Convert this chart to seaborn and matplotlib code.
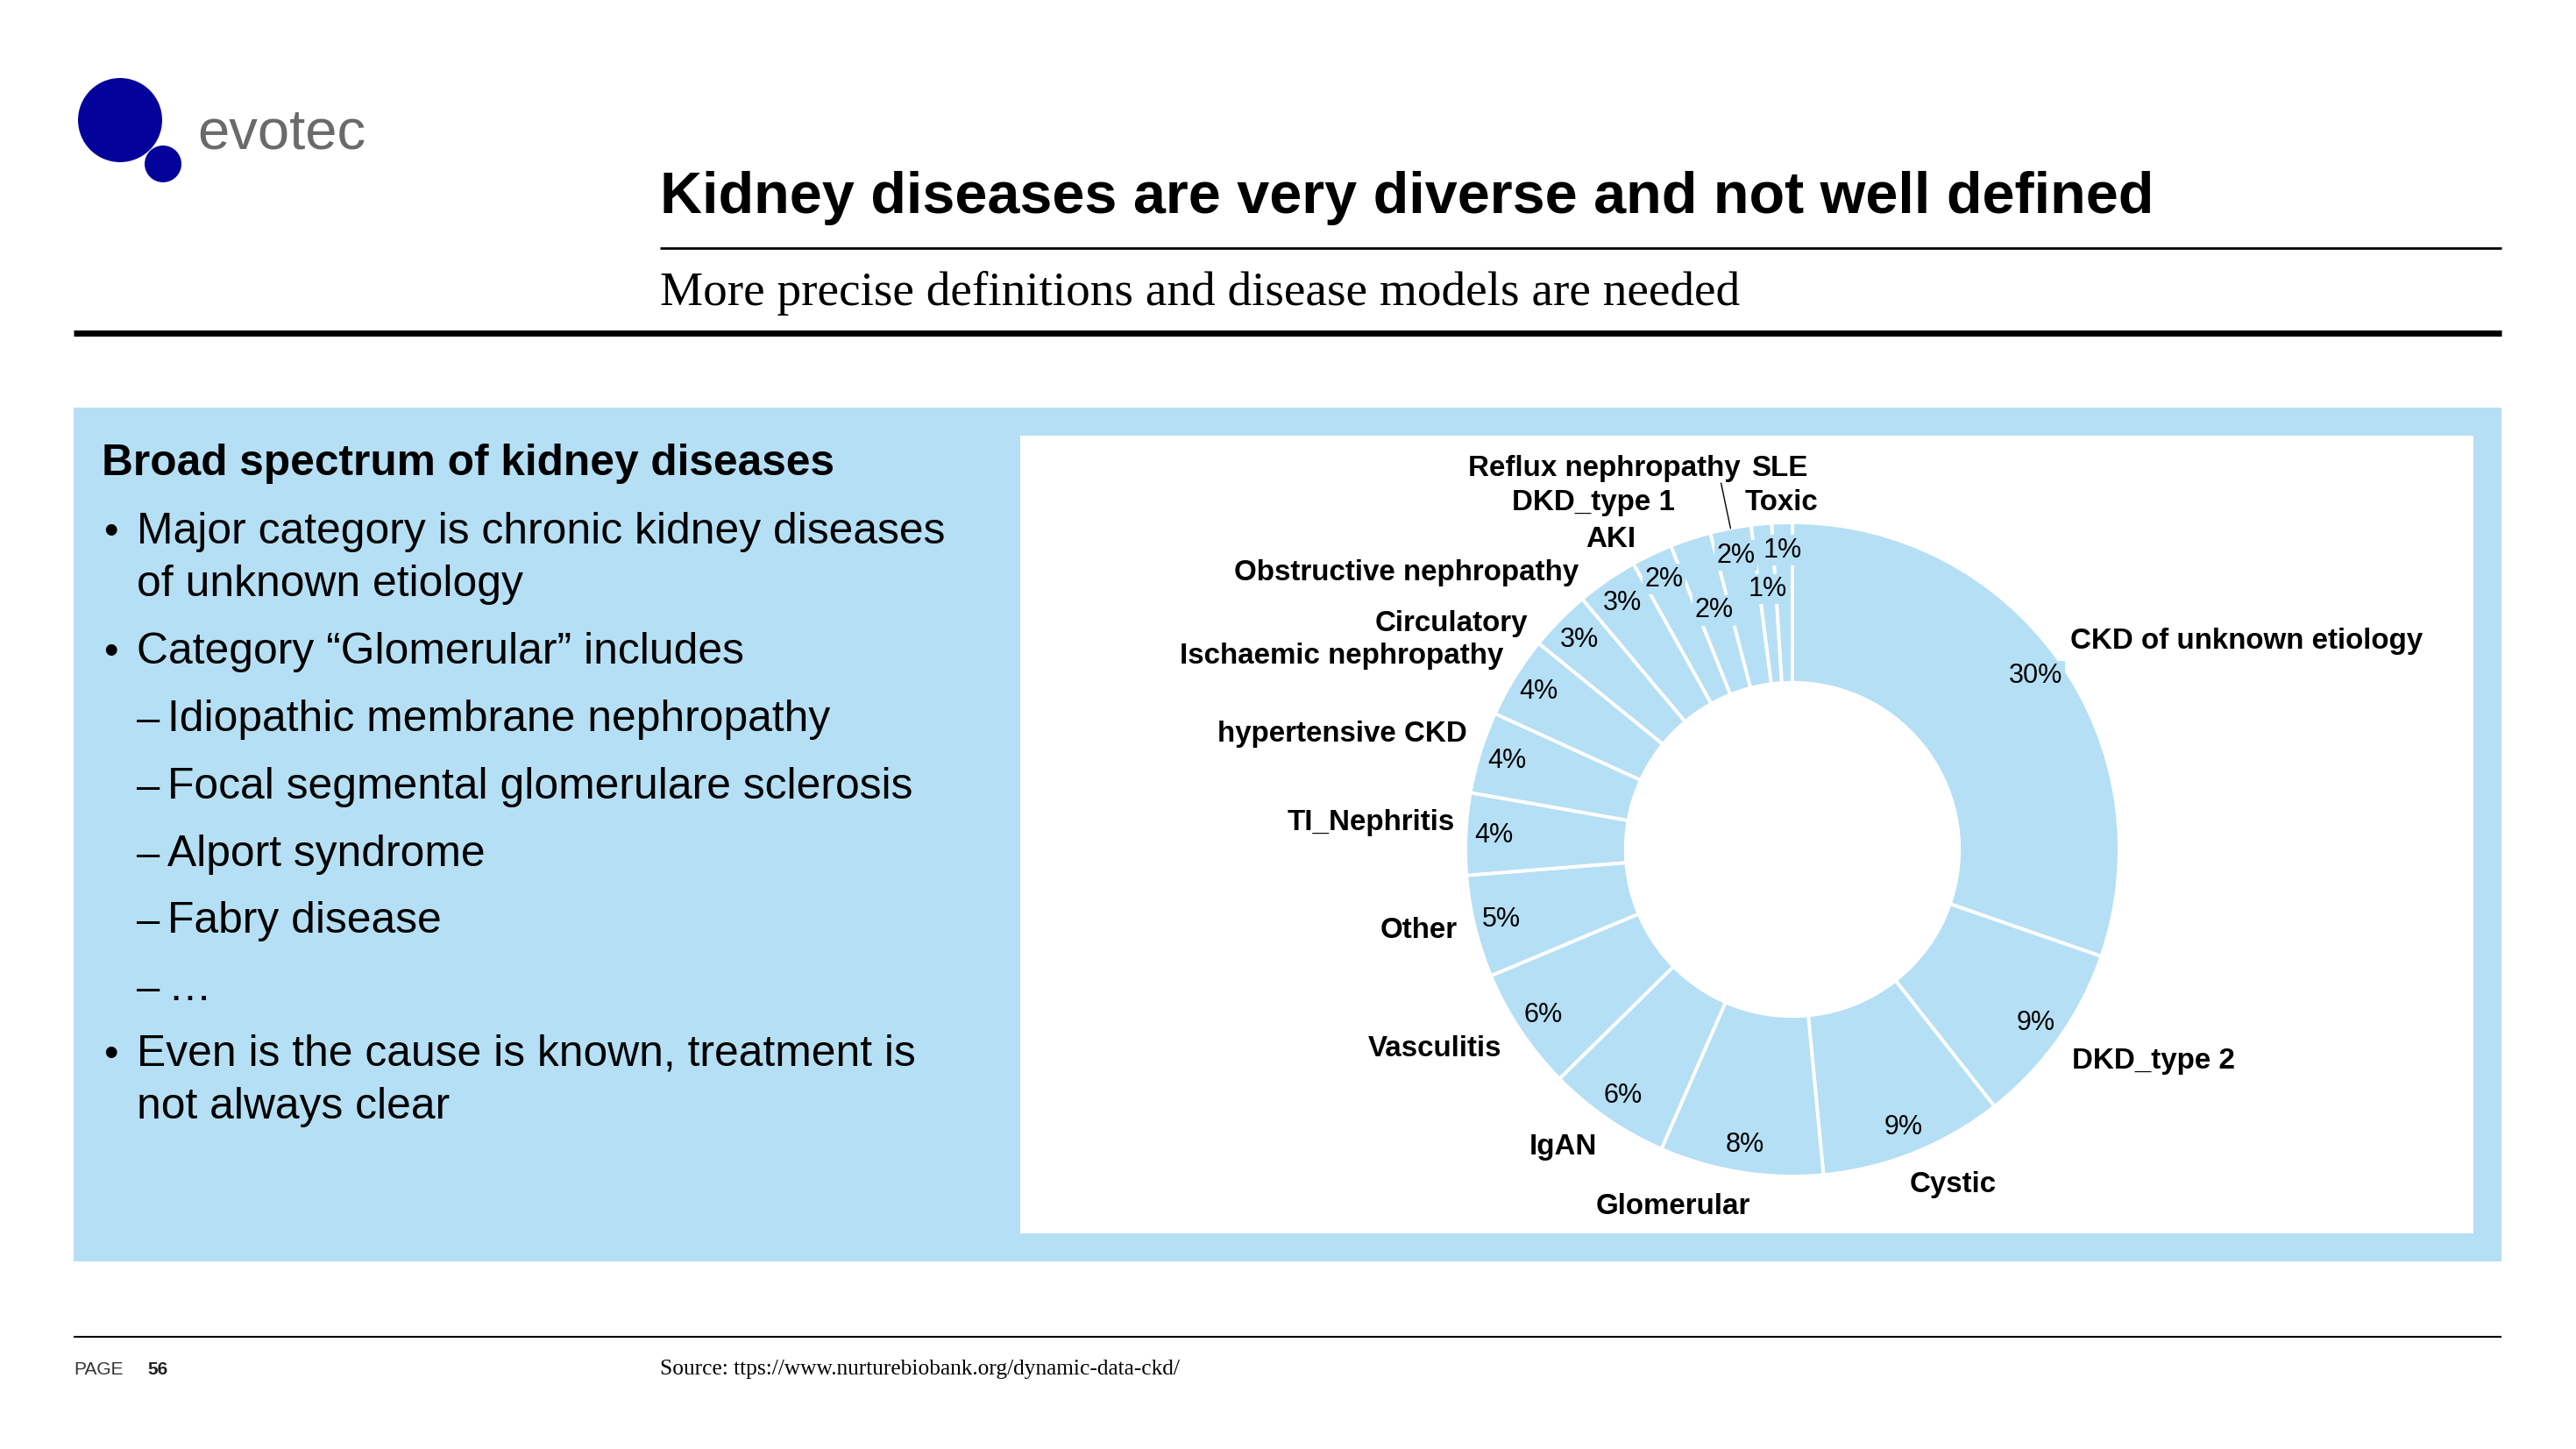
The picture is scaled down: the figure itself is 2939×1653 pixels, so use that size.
import numpy as np
import pandas as pd
import matplotlib
matplotlib.use("Agg")
import matplotlib.pyplot as plt
import seaborn as sns
from matplotlib.patches import Rectangle, Circle

# ---------------- data ----------------
categories = ["CKD of unknown etiology", "DKD_type 2", "Cystic", "Glomerular", "IgAN",
              "Vasculitis", "Other", "TI_Nephritis", "hypertensive CKD",
              "Ischaemic nephropathy", "Circulatory", "Obstructive nephropathy", "AKI",
              "DKD_type 1", "Reflux nephropathy", "SLE", "Toxic"]
shares = [30, 9, 9, 8, 6, 6, 5, 4, 4, 4, 3, 3, 2, 2, 2, 1, 1]
pct_labels = [f"{v}%" for v in shares]

title = "Kidney diseases are very diverse and not well defined"
subtitle = "More precise definitions and disease models are needed"
box_heading = "Broad spectrum of kidney diseases"
bullet_kinds = ["b", "c", "b", "d", "d", "d", "d", "d", "b", "c"]
bullet_texts = ["Major category is chronic kidney diseases", "of unknown etiology",
                "Category \u201cGlomerular\u201d includes", "Idiopathic membrane nephropathy",
                "Focal segmental glomerulare sclerosis", "Alport syndrome", "Fabry disease",
                "\u2026", "Even is the cause is known, treatment is", "not always clear"]
source_text = "Source: ttps://www.nurturebiobank.org/dynamic-data-ckd/"
page_label, page_num = "PAGE", "56"

# ---------------- style ----------------
sns.set_style("white")
SANS = ["Liberation Sans", "DejaVu Sans"]
SERIF = ["Liberation Serif", "DejaVu Serif"]
plt.rcParams["font.family"] = SANS
plt.rcParams["text.color"] = "black"

LIGHT = "#b5dff4"
NAVY = "#03039b"

W, H, DPI = 2939, 1653, 100
fig = plt.figure(figsize=(W / DPI, H / DPI), dpi=DPI)
fig.patch.set_facecolor("white")
bg = fig.add_axes([0, 0, 1, 1])
bg.set_xlim(0, W)
bg.set_ylim(H, 0)
bg.axis("off")

# logo
bg.add_patch(Circle((137, 137), 48, color=NAVY, lw=0))
bg.add_patch(Circle((186, 187), 21, color=NAVY, lw=0))
bg.text(225, 170, "evotec", fontsize=47, color="#6a6a6a", va="baseline", family=SANS)

# header
t_title = bg.text(753, 243, title, fontsize=40, fontweight="bold", va="baseline", family=SANS)
bg.plot([753, 2854], [283, 283], color="black", lw=2.0, solid_capstyle="butt")
t_sub = bg.text(753, 348, subtitle, fontsize=36, va="baseline", family=SERIF)
bg.plot([84, 2854], [380, 380], color="black", lw=5.0, solid_capstyle="butt")

# panels
bg.add_patch(Rectangle((84, 465), 2854 - 84, 1439 - 465, color=LIGHT, lw=0))
bg.add_patch(Rectangle((1164, 497), 2822 - 1164, 1407 - 497, color="white", lw=0))

# left text
t_head = bg.text(116, 542, box_heading, fontsize=34, fontweight="bold", va="baseline", family=SANS)
line_y = [620, 680, 757, 834, 911, 988, 1064, 1141, 1216, 1276]
btexts = []
for kind, txt, y in zip(bullet_kinds, bullet_texts, line_y):
    if kind == "b":
        bg.text(126, y, "\u2022", fontsize=34, va="baseline", ha="center", family=SANS)
        btexts.append(bg.text(156, y, txt, fontsize=34, va="baseline", family=SANS))
    elif kind == "c":
        btexts.append(bg.text(156, y, txt, fontsize=34, va="baseline", family=SANS))
    else:
        bg.text(156, y, "\u2013", fontsize=34, va="baseline", family=SANS)
        btexts.append(bg.text(191, y, txt, fontsize=34, va="baseline", family=SANS))

# footer
bg.plot([84, 2854], [1525, 1525], color="black", lw=1.5, solid_capstyle="butt")
bg.text(84, 1568, page_label, fontsize=15, color="#333333", va="baseline", family=SANS)
bg.text(168, 1568, page_num, fontsize=15, fontweight="bold", color="#222222", va="baseline", family=SANS)
t_src = bg.text(753, 1568, source_text, fontsize=16, va="baseline", family=SERIF)

# ---------------- donut ----------------
CX, CY, R = 2045, 969, 373
L = 1.8
half = L * R
ax = fig.add_axes([(CX - half) / W, (H - CY - half) / H, 2 * half / W, 2 * half / H])
wedges, _ = ax.pie(shares, startangle=90, counterclock=False, colors=[LIGHT] * len(shares),
                   radius=1.0, wedgeprops=dict(width=0.49, edgecolor="white", linewidth=2.8))
ax.set_xlim(-L, L)
ax.set_ylim(-L, L)
ax.set_aspect("equal")
ax.axis("off")
ax.patch.set_visible(False)

k = 1.874 / R  # one reference (shrunk) pixel in data units
pct_r = {"DKD_type 1": 0.77, "SLE": 0.80}
lab_ha = ["left", "left", "left", "right", "right", "right", "right", "right", "right",
          "right", "right", "right", "right", "right", "right", "left", "left"]
lab_nudge = {"CKD of unknown etiology": (-9, 0), "DKD_type 2": (-8, 2), "Cystic": (-10, 1),
             "Glomerular": (9, 1), "IgAN": (5, 1), "Vasculitis": (5, 0), "Other": (9, -2),
             "TI_Nephritis": (13, -6), "hypertensive CKD": (11, -5),
             "Ischaemic nephropathy": (10, -2), "Circulatory": (-5, 16),
             "Obstructive nephropathy": (-6, 12), "AKI": (-1, 9), "DKD_type 1": (-3, -3),
             "Reflux nephropathy": (10, -17), "SLE": (-4, -14), "Toxic": (-22, 8)}

cat_texts = []
for w, cat, pl, ha in zip(wedges, categories, pct_labels, lab_ha):
    mid = np.deg2rad((w.theta1 + w.theta2) / 2)
    c, s = np.cos(mid), np.sin(mid)
    rp = pct_r.get(cat, 0.915)
    ax.text(rp * c, rp * s, pl, ha="center", va="center", fontsize=22, family=SANS,
            color="black", bbox=dict(boxstyle="square,pad=0.08", fc=LIGHT, ec="none"))
    dx, dy = lab_nudge.get(cat, (0, 0))
    lx, ly = 1.1 * c + dx * k, 1.1 * s - dy * k
    cat_texts.append(ax.text(lx, ly, cat, ha=ha, va="center", fontsize=22,
                             fontweight="bold", family=SANS, color="black"))
    if cat == "Reflux nephropathy":
        ax.plot([lx - 12 * k, c], [ly - 9 * k, s], color="black", lw=1.0)

# ---------------- fit text widths to reference ----------------
fig.canvas.draw()
rend = fig.canvas.get_renderer()


def fit(t, target):
    wdt = t.get_window_extent(rend).width
    t.set_fontsize(t.get_fontsize() * target / wdt)
    return t.get_fontsize()


fit(t_title, 1702)
fit(t_sub, 1230)
fit(t_head, 836)
fit(t_src, 592)
fs_b = fit(btexts[0], 920)
for t in btexts:
    t.set_fontsize(fs_b)
fs_c = fit(cat_texts[0], 403)
for t in cat_texts:
    t.set_fontsize(fs_c)

fig.savefig("out.png", dpi=DPI, facecolor="white")
